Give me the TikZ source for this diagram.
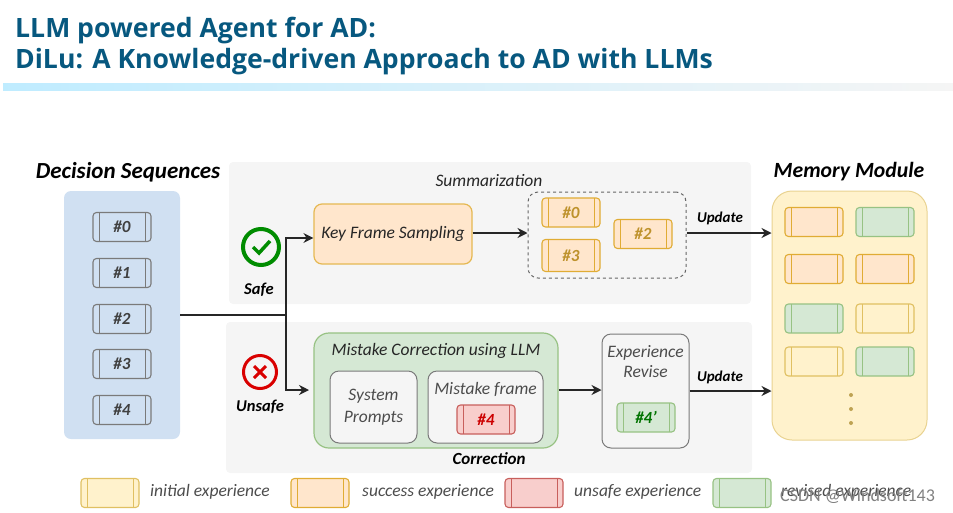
\documentclass[tikz,border=0pt]{standalone}
\usepackage{fontspec}
\usepackage{xcolor}
\usetikzlibrary{positioning,arrows.meta,calc}
\setmainfont{Carlito}
\newfontfamily\titlefont{Open Sans}
\definecolor{yl}{HTML}{FFF2CC}
\definecolor{yld}{HTML}{E0C062}
\definecolor{og}{HTML}{FFE6CC}
\definecolor{ogd}{HTML}{E0AC34}
\definecolor{rd}{HTML}{F8CECC}
\definecolor{rdd}{HTML}{C85F5C}
\definecolor{gn}{HTML}{D5E8D4}
\definecolor{gnd}{HTML}{97C283}
\definecolor{gy}{HTML}{F5F5F5}
\definecolor{fr}{HTML}{7A7A7A}
\definecolor{bl}{HTML}{D0E0F2}
\definecolor{ttl}{HTML}{07587F}
\newcommand{\hw}{\itshape}
% one frame: fill, edge and the two inner bars
\tikzset{
  frame/.style={draw, rounded corners=3.5pt, line width=1.1pt, minimum width=58pt, minimum height=29pt,
    inner sep=0pt, font=\hw\bfseries\fontsize{17}{17}\selectfont,
    path picture={\draw[line width=1pt] ($(path picture bounding box.north west)+(6,0)$) -- ($(path picture bounding box.south west)+(6,0)$)
      ($(path picture bounding box.north east)+(-6,0)$) -- ($(path picture bounding box.south east)+(-6,0)$);}},
  fgray/.style={frame, draw=fr, fill=bl, text=black!75},
  fyl/.style={frame, draw=yld, fill=yl},
  fog/.style={frame, draw=ogd, fill=og, text=ogd!85!black},
  frd/.style={frame, draw=rdd, fill=rd, text=red!80!black},
  fgn/.style={frame, draw=gnd, fill=gn, text=green!45!black},
  panel/.style={fill=gy, rounded corners=4pt},
  inbox/.style={draw=fr, fill=gy, line width=1pt, rounded corners=9pt},
  lbl/.style={font=\hw\fontsize{17.5}{20}\selectfont, text=black!85, align=center},
  blbl/.style={font=\hw\bfseries\fontsize{15}{15}\selectfont},
  slbl/.style={font=\hw\bfseries\fontsize{16.5}{16.5}\selectfont},
  head/.style={font=\hw\bfseries\fontsize{23}{23}\selectfont},
  leg/.style={font=\hw\fontsize{17.5}{17.5}\selectfont, text=black!70, anchor=west, inner sep=0pt},
  conn/.style={-{Stealth[length=10pt,width=10pt]}, line width=1.2pt, black!85},
}
\begin{document}
\begin{tikzpicture}[x=1pt, y=-1pt]
\useasboundingbox (0,0) rectangle (953,512);
% title
\node[anchor=base west, inner sep=0pt, text=ttl, font=\titlefont\bfseries\fontsize{26.6}{26.6}\selectfont] (tl) at (15,37) {LLM powered Agent for AD:};
\node[anchor=base west, inner sep=0pt, text=ttl, font=\titlefont\bfseries\fontsize{26.6}{26.6}\selectfont] (tm) at (15,68) {DiLu: A Knowledge-driven Approach to AD with LLMs};
\shade[left color=blue!30!cyan!25, right color=gy] (3,83) rectangle (953,90);
% panels
\node[panel, minimum width=522pt, minimum height=142pt] (safep) at (490,233) {};
\node[panel, minimum width=526pt, minimum height=151pt] (unsp) at (489,397.5) {};
\node[fill=bl, rounded corners=7pt, minimum width=116pt, minimum height=248pt] (seq) at (122,315) {};
\node[fill=yl, draw=yld!70, line width=1pt, rounded corners=20pt, minimum width=155pt, minimum height=249pt] (mem) at (849.5,315.5) {};
\node[head] (seqt) at (128,172) {Decision Sequences};
\node[head, font=\hw\bfseries\fontsize{21.7}{22}\selectfont] (memt) at (849,172) {Memory Module};
% sequences
\foreach \n/\y in {0/227,1/273,2/319,3/364,4/410}
  \node[fgray] (s\n) at (122,\y) {\#\n};
% safe branch
\node[circle, draw=green!55!black, line width=4pt, minimum size=36pt, inner sep=0pt] (ok) at (261,247) {};
\draw[green!55!black, line width=3.5pt] (253,247) -- (259,253) -- (270,241);
\node[slbl] (safet) at (259,290) {Safe};
\node[draw=ogd!85, fill=og, line width=1.2pt, rounded corners=8pt, minimum width=158pt, minimum height=60pt, lbl] (key) at (393,234) {Key Frame Sampling};
\node[lbl] (sumt) at (489,181) {Summarization};
\node[draw=black!60, dashed, line width=1pt, rounded corners=10pt, minimum width=158pt, minimum height=86pt] (cl) at (607,235) {};
\node[fog] (a0) at (571,212.5) {\#0};
\node[fog, minimum height=32pt] (a3) at (571,255.5) {\#3};
\node[fog] (a2) at (643,234) {\#2};
\node[blbl] (up1) at (720,218) {Update};
% unsafe branch
\node[circle, draw=red!85!black, line width=3pt, minimum size=33pt, inner sep=0pt] (no) at (260,372) {};
\draw[red!85!black, line width=3pt] (254,366) -- (266,378) (266,366) -- (254,378);
\node[slbl] (unst) at (260,407) {Unsafe};
\node[draw=gnd, fill=gn, line width=1.2pt, rounded corners=15pt, minimum width=244pt, minimum height=115pt] (mist) at (436,390.5) {};
\node[lbl] (mistt) at (436,351) {Mistake Correction using LLM};
\node[inbox, minimum width=87pt, minimum height=72pt, lbl, text=black!70] (sys) at (373.5,407) {System\\[2pt]Prompts};
\node[inbox, minimum width=115pt, minimum height=72pt] (frm) at (485.5,407) {};
\node[lbl, text=black!70] (frmt) at (485.5,389) {Mistake frame};
\node[frd] (r4) at (486,419.5) {\#4};
\node[inbox, minimum width=87pt, minimum height=114pt] (rev) at (645.5,391) {};
\node[lbl, text=black!70] (revt) at (645.5,362) {Experience\\Revise};
\node[fgn] (g4) at (646,417.5) {\#4'};
\node[slbl, font=\hw\bfseries\fontsize{17}{17}\selectfont] (cort) at (489,459) {Correction};
\node[blbl] (up2) at (720,377) {Update};
% memory frames
\foreach \n/\x/\y/\s in {a/814/222/fog, b/885/222/fgn, c/814/269/fog, d/885/269/fog, e/814/318.5/fgn, f/885/318.5/fyl, g/814/361.5/fyl, h/885/361.5/fgn}
  \node[\s] (cell\n) at (\x,\y) {};
\foreach \y in {395,409,423}
  \fill[yld!85!black] (851,\y) circle (2pt);
% connectors
\coordinate (jn) at (286,315);
\draw[line width=1.2pt, black!85] (seq.east |- jn) -- (jn);
\draw[conn] (jn) |- (key.west |- 0,238);
\draw[conn] (jn) |- (309,390);
\draw[conn] (key.east |- 0,233) -- (cl.west |- 0,233);
\draw[conn] (cl.east |- 0,233) -- (mem.west |- 0,233);
\draw[conn] (mist.east |- 0,390) -- (rev.west |- 0,390);
\draw[conn] (rev.east |- 0,391) -- (mem.west |- 0,391);
% legend
\node[fyl] (l1) at (110,493) {};
\node[leg] (l1t) at (150,492) {initial experience};
\node[fog] (l2) at (320,493) {};
\node[leg] (l2t) at (362,492) {success experience};
\node[frd] (l3) at (534,493) {};
\node[leg] (l3t) at (574,492) {unsafe experience};
\node[fgn] (l4) at (742,493) {};
\node[leg] (l4t) at (781,492) {revised experience};
\node[anchor=west, text=black!50, font=\fontsize{18}{18}\selectfont, inner sep=0pt] (wm) at (780,496) {CSDN @Windsoft143};
\end{tikzpicture}
\end{document}
